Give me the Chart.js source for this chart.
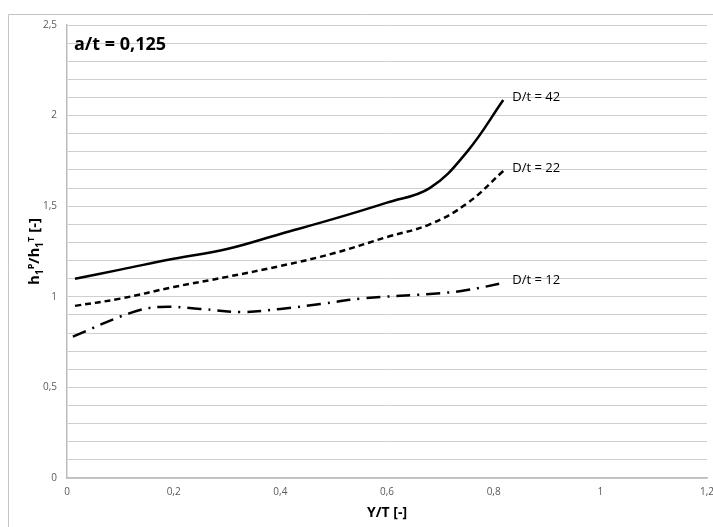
<!DOCTYPE html>
<html>
<head>
<meta charset="utf-8">
<script src="https://cdn.jsdelivr.net/npm/chart.js@4"></script>
<style>
  html, body { margin: 0; padding: 0; background: #fff; }
  #wrap { width: 713px; height: 527px; }
</style>
</head>
<body>
<div id="wrap"><canvas id="chart" width="713" height="527"></canvas></div>
<script>
// data
const seriesNames = ['D/t = 42', 'D/t = 22', 'D/t = 12'];
const x42 = [0.015, 0.1, 0.2, 0.3, 0.4, 0.5, 0.6, 0.68, 0.75, 0.818];
const y42 = [1.10, 1.15, 1.21, 1.264, 1.347, 1.43, 1.52, 1.60, 1.80, 2.086];
const x22 = [0.015, 0.1, 0.2, 0.3, 0.4, 0.5, 0.6, 0.68, 0.75, 0.818];
const y22 = [0.95, 0.99, 1.054, 1.11, 1.17, 1.24, 1.33, 1.40, 1.515, 1.694];
const x12 = [0.011, 0.118, 0.174, 0.25, 0.325, 0.4, 0.475, 0.55, 0.7, 0.75, 0.818];
const y12 = [0.78, 0.91, 0.944, 0.933, 0.916, 0.933, 0.96, 0.99, 1.02, 1.037, 1.076];
const xTicks = [0, 0.2, 0.4, 0.6, 0.8, 1, 1.2];
const yLabels = [0, 0.5, 1, 1.5, 2, 2.5];
const chartTitle = 'a/t = 0,125';
const xTitle = 'Y/T [-]';

const fmt = v => String(Math.round(v * 10) / 10).replace('.', ',');
const pts = (xs, ys) => xs.map((x, i) => ({ x: x, y: ys[i] }));

// frame, title, y-axis label with sub/superscripts, end-of-line labels
const decor = {
    id: 'decor',
    beforeDraw(chart) {
        const c = chart.ctx;
        c.save();
        c.strokeStyle = '#c4c4c4';
        c.lineWidth = 1;
        c.beginPath();
        c.moveTo(8.5, 527);
        c.lineTo(8.5, 14.5);
        c.lineTo(713, 14.5);
        c.stroke();
        c.restore();
    },
    afterDraw(chart) {
        const c = chart.ctx;
        const xs = chart.scales.x, ys = chart.scales.y;
        c.save();
        c.fillStyle = '#000';
        c.textBaseline = 'alphabetic';
        c.font = 'bold 18px "Open Sans"';
        c.fillText(chartTitle, 74, 50);

        // y axis title
        const parts = [
            ['h', 0, 15], ['1', 4, 10], ['P', -5, 9], ['/h', 0, 15],
            ['1', 4, 10], ['T', -5, 9], [' [-]', 0, 15]
        ];
        let w = 0;
        parts.forEach(p => { c.font = 'bold ' + p[2] + 'px "Open Sans"'; w += c.measureText(p[0]).width; });
        c.translate(39, (chart.chartArea.top + chart.chartArea.bottom) / 2);
        c.rotate(-Math.PI / 2);
        let px = -w / 2;
        parts.forEach(p => {
            c.font = 'bold ' + p[2] + 'px "Open Sans"';
            c.fillText(p[0], px, p[1]);
            px += c.measureText(p[0]).width;
        });
        c.restore();

        // series labels at line ends
        c.save();
        c.font = '13px "Open Sans"';
        c.fillStyle = '#000';
        c.textBaseline = 'middle';
        chart.data.datasets.forEach(ds => {
            const last = ds.data[ds.data.length - 1];
            c.fillText(ds.label, xs.getPixelForValue(last.x) + 9, ys.getPixelForValue(last.y) - 3);
        });
        c.restore();
    }
};

const lineStyle = {
    borderColor: '#000',
    borderWidth: 2.5,
    pointRadius: 0,
    fill: false,
    tension: 0.4
};

new Chart(document.getElementById('chart'), {
    type: 'line',
    data: {
        datasets: [
            Object.assign({ label: seriesNames[0], data: pts(x42, y42) }, lineStyle),
            Object.assign({ label: seriesNames[1], data: pts(x22, y22), borderDash: [6, 4] }, lineStyle),
            Object.assign({ label: seriesNames[2], data: pts(x12, y12), borderDash: [14, 7, 2, 7] }, lineStyle)
        ]
    },
    options: {
        responsive: false,
        animation: false,
        layout: { padding: { top: 25, right: 6, left: 0, bottom: 0 } },
        plugins: { legend: { display: false }, tooltip: { enabled: false } },
        scales: {
            x: {
                type: 'linear',
                min: 0,
                max: 1.2,
                afterBuildTicks: s => { s.ticks = xTicks.map(v => ({ value: v })); },
                afterFit: s => { s.height = 49; s.paddingLeft = 0; s.paddingRight = 0; },
                grid: { display: false, drawTicks: false },
                border: { color: '#bdbdbd', width: 1.5 },
                ticks: {
                    color: '#595959',
                    font: { family: 'Open Sans', size: 10 },
                    padding: 8,
                    maxRotation: 0,
                    autoSkip: false,
                    callback: v => fmt(v)
                },
                title: {
                    display: true,
                    text: xTitle,
                    color: '#000',
                    font: { family: 'Open Sans', size: 14, weight: 'bold' },
                    padding: { top: 0, bottom: 6 }
                }
            },
            y: {
                min: 0,
                max: 2.5,
                afterFit: s => { s.width = 67; s.paddingTop = 0; s.paddingBottom = 0; },
                grid: { color: '#cfcfcf', lineWidth: 1, drawTicks: false },
                border: { color: '#bdbdbd', width: 1.5 },
                ticks: {
                    stepSize: 0.1,
                    autoSkip: false,
                    color: '#595959',
                    font: { family: 'Open Sans', size: 10 },
                    padding: 10,
                    callback: v => yLabels.some(l => Math.abs(l - v) < 1e-6) ? fmt(v) : ''
                }
            }
        }
    },
    plugins: [decor]
});
</script>
</body>
</html>
